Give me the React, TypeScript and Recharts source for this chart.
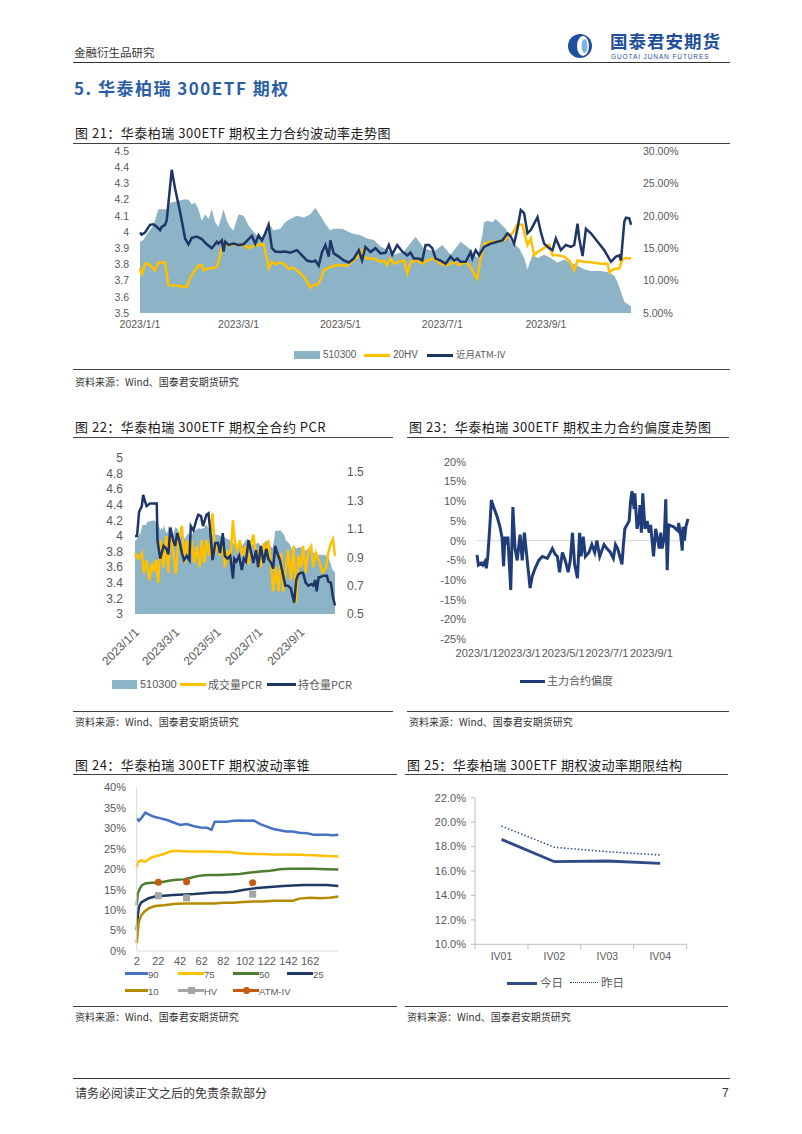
import React from 'react'
import { ComposedChart, LineChart, Line, Area, XAxis, YAxis, ReferenceLine } from 'recharts'

// x axis of the daily charts: days since 2023/1/1
const dateTicks = [0, 59, 120, 181, 243]
const dateLabels = ['2023/1/1', '2023/3/1', '2023/5/1', '2023/7/1', '2023/9/1']

// 510300 close (left axis), used by fig 21 and fig 22
const etf510300 = [
  [0, 3.94], [2, 3.95], [5, 4.0], [8, 4.04], [11, 4.14], [16, 4.14], [18, 4.18], [22, 4.19], [26, 4.2], [29, 4.2],
  [31, 4.17], [33, 4.18], [35, 4.14], [37, 4.07], [39, 4.11], [41, 4.08], [43, 4.14], [45, 4.06], [47, 4.03], [50, 4.14],
  [52, 4.07], [54, 4.03], [56, 4.01], [59, 4.11], [62, 4.1], [65, 4.04], [68, 4.0], [71, 3.97], [74, 3.97], [76, 4.01],
  [78, 4.04], [80, 4.01], [84, 4.02], [87, 4.06], [90, 4.08], [94, 4.1], [98, 4.09], [102, 4.11], [105, 4.15], [108, 4.1],
  [111, 4.05], [114, 4.01], [116, 4.02], [121, 4.02], [127, 3.99], [132, 3.98], [136, 3.96], [140, 3.95], [144, 3.91], [148, 3.89],
  [152, 3.86], [158, 3.88], [165, 3.97], [170, 3.9], [176, 3.88], [181, 3.92], [186, 3.86], [192, 3.94], [197, 3.9], [202, 3.84],
  [205, 3.98], [206, 4.06], [208, 4.07], [211, 4.06], [213, 4.08], [216, 4.05], [219, 4.02], [222, 3.94], [225, 3.92], [227, 3.9],
  [230, 3.84], [232, 3.77], [235, 3.86], [238, 3.84], [242, 3.86], [246, 3.84], [250, 3.81], [254, 3.83], [258, 3.81], [262, 3.79],
  [266, 3.77], [270, 3.76], [276, 3.76], [281, 3.75], [284, 3.73], [286, 3.69], [288, 3.63], [290, 3.57], [294, 3.54],
]

// fig 21, right axis (%)
const hv20 = [
  [0, 11.96], [1, 10.8], [3, 12.6], [5, 12.6], [7, 12.1], [9, 11.6], [11, 12.8], [15, 12.8], [17, 9.3], [22, 9.2],
  [28, 9.0], [30, 10.3], [32, 11.3], [35, 12.3], [37, 12.4], [38, 11.6], [41, 11.9], [44, 11.9], [46, 12.1], [47, 12.9],
  [49, 15.0], [50, 15.5], [54, 15.5], [58, 15.6], [62, 15.5], [65, 15.0], [68, 15.4], [71, 15.5], [74, 15.7], [76, 13.4],
  [77, 11.9], [79, 12.9], [81, 12.5], [84, 12.8], [87, 12.4], [89, 11.8], [91, 12.0], [94, 11.6], [96, 11.1], [99, 10.3],
  [102, 8.9], [104, 9.4], [106, 9.3], [108, 10.1], [110, 11.6], [114, 12.1], [118, 12.4], [124, 12.3], [128, 13.1], [131, 13.9],
  [133, 14.7], [134, 13.7], [136, 13.4], [140, 13.4], [144, 12.9], [146, 13.1], [148, 12.4], [150, 13.4], [152, 12.6], [155, 12.9],
  [158, 13.1], [160, 11.1], [162, 12.9], [166, 13.1], [169, 12.6], [172, 13.1], [176, 13.4], [180, 12.6], [184, 12.4], [188, 12.9],
  [191, 12.4], [195, 12.9], [198, 12.1], [201, 10.6], [202, 10.3], [204, 13.4], [206, 15.7], [210, 16.0], [214, 16.0], [218, 16.2],
  [221, 17.0], [223, 17.3], [226, 18.6], [229, 18.6], [231, 16.5], [232, 15.5], [234, 16.5], [236, 13.9], [238, 14.4], [240, 14.7],
  [243, 15.2], [245, 15.5], [247, 13.9], [250, 13.9], [254, 13.7], [257, 13.1], [260, 11.6], [262, 13.1], [266, 12.9], [271, 12.8],
  [276, 12.6], [280, 12.6], [281, 11.3], [284, 11.8], [287, 11.9], [289, 13.3], [291, 13.5], [294, 13.4],
]

const atmIV = [
  [0, 17.4], [1, 17.1], [3, 17.4], [6, 18.6], [8, 18.7], [10, 18.3], [12, 17.8], [13, 18.3], [15, 18.6], [16, 19.3],
  [19, 27.1], [21, 24.2], [24, 20.6], [27, 16.5], [29, 15.6], [31, 16.6], [34, 16.8], [37, 16.4], [40, 15.6], [43, 15.0],
  [44, 15.3], [46, 16.0], [47, 15.7], [49, 16.2], [50, 14.5], [51, 16.0], [53, 15.5], [56, 15.7], [59, 15.5], [62, 15.6],
  [65, 16.4], [67, 16.9], [69, 15.7], [71, 17.0], [73, 16.2], [75, 17.3], [77, 18.6], [79, 15.0], [81, 14.5], [84, 14.4],
  [87, 14.5], [90, 14.3], [94, 14.7], [97, 13.9], [100, 13.1], [103, 12.9], [105, 13.1], [107, 12.3], [109, 14.4], [111, 15.5],
  [113, 13.7], [114, 16.2], [116, 14.2], [119, 13.7], [122, 13.1], [125, 12.8], [128, 13.4], [131, 14.7], [133, 13.1], [135, 15.2],
  [138, 14.4], [141, 15.0], [144, 14.2], [147, 14.3], [149, 15.5], [151, 14.0], [154, 15.5], [157, 14.5], [160, 13.9], [162, 14.3],
  [164, 13.4], [167, 13.4], [169, 13.1], [171, 15.5], [173, 15.5], [175, 15.0], [177, 13.4], [180, 13.1], [183, 12.6], [186, 13.7],
  [188, 13.1], [190, 13.4], [192, 12.9], [195, 12.9], [198, 14.4], [199, 13.4], [201, 14.7], [203, 13.9], [206, 15.2], [210, 15.7],
  [214, 16.0], [217, 16.2], [220, 17.3], [222, 16.8], [224, 15.7], [226, 18.0], [228, 20.9], [230, 20.4], [232, 17.3], [234, 17.8],
  [236, 18.8], [238, 19.8], [240, 17.5], [242, 15.7], [245, 15.0], [247, 14.7], [249, 16.5], [252, 14.7], [255, 15.5], [258, 15.2],
  [260, 15.5], [262, 18.8], [263, 16.5], [265, 13.8], [267, 18.0], [270, 17.3], [274, 16.0], [278, 14.7], [282, 12.9], [285, 13.7],
  [287, 13.9], [288, 13.1], [290, 19.1], [291, 19.7], [293, 19.6], [294, 18.6],
]

// fig 22, right axis
const pcrVolume = [
  [0, 0.93], [5, 0.89], [10, 0.93], [13, 0.79], [17, 0.88], [21, 0.74], [25, 0.86], [28, 0.8], [31, 0.88], [34, 0.72],
  [38, 1.02], [42, 0.83], [46, 1.05], [49, 0.79], [52, 1.09], [56, 0.95], [60, 0.78], [64, 1.02], [69, 1.12], [73, 0.86],
  [76, 1.02], [80, 0.88], [83, 1.02], [87, 0.86], [91, 0.98], [95, 0.83], [98, 1.02], [102, 0.86], [105, 1.02], [109, 0.91],
  [114, 1.21], [118, 0.93], [122, 1.0], [125, 0.91], [129, 1.02], [132, 0.83], [136, 0.95], [140, 0.86], [144, 1.16], [147, 1.0],
  [150, 0.95], [154, 1.02], [158, 0.91], [162, 0.98], [167, 0.85], [171, 1.0], [174, 1.06], [178, 0.91], [181, 0.95], [185, 0.83],
  [189, 1.0], [193, 0.93], [196, 1.02], [200, 0.86], [203, 0.66], [207, 0.83], [211, 0.66], [215, 0.93], [218, 0.66], [222, 0.83],
  [225, 0.95], [229, 0.74], [233, 0.98], [237, 0.58], [240, 0.91], [244, 0.83], [247, 0.98], [251, 0.79], [255, 0.95], [259, 0.98],
  [262, 0.83], [266, 0.93], [271, 0.87], [276, 0.79], [281, 0.83], [284, 0.93], [288, 1.0], [291, 1.03], [294, 0.91],
]

const pcrOI = [
  [0, 1.05], [3, 1.05], [6, 1.22], [10, 1.26], [12, 1.34], [15, 1.29], [17, 1.26], [22, 1.28], [29, 1.28], [32, 1.28],
  [33, 1.02], [37, 0.89], [42, 0.98], [46, 0.96], [49, 0.92], [52, 1.11], [56, 1.02], [59, 0.98], [62, 1.07], [65, 1.02],
  [69, 0.93], [72, 0.88], [76, 0.91], [80, 0.88], [82, 1.12], [86, 1.09], [90, 1.16], [93, 1.2], [97, 1.19], [100, 1.12],
  [105, 1.2], [108, 1.21], [110, 1.12], [114, 0.88], [118, 1.0], [122, 1.0], [125, 0.93], [129, 1.07], [132, 0.91], [136, 0.89],
  [140, 0.91], [144, 0.75], [146, 0.89], [149, 0.87], [153, 0.91], [157, 0.81], [160, 0.89], [163, 0.87], [167, 1.02], [170, 0.95],
  [174, 0.86], [178, 0.95], [181, 0.83], [185, 0.98], [189, 0.86], [193, 0.96], [196, 0.89], [200, 0.86], [203, 0.82], [206, 0.98],
  [209, 0.93], [213, 0.88], [217, 0.79], [221, 0.7], [225, 0.7], [229, 0.68], [234, 0.58], [237, 0.74], [240, 0.78], [244, 0.79],
  [247, 0.79], [251, 0.72], [255, 0.7], [259, 0.71], [262, 0.7], [265, 0.74], [267, 0.66], [270, 0.76], [272, 0.76], [277, 0.77],
  [282, 0.77], [284, 0.73], [288, 0.72], [291, 0.62], [294, 0.56],
]

// fig 23 skew (%)
const skew = [
  [0, -3.6], [2, -6.2], [6, -5.7], [8, -6.2], [11, -5.3], [13, -7.0], [15, -4.1], [18, 4.0], [20, 10.3], [23, 8.6],
  [28, 6.1], [32, 3.5], [35, 0.6], [37, -6.5], [39, 1.0], [41, -1.0], [43, 1.0], [47, -12.5], [50, 8.5], [53, -2.0],
  [56, -5.0], [60, 1.5], [63, -5.0], [66, 2.0], [70, -5.0], [74, -12.0], [77, -9.0], [81, -7.0], [86, -5.0], [91, -4.0],
  [98, -4.5], [105, -2.0], [109, -3.5], [112, -4.0], [115, -8.0], [119, -3.0], [123, -5.0], [127, -8.0], [130, -5.0], [133, 2.0],
  [136, -6.0], [140, -9.5], [143, 2.0], [145, -4.0], [148, 1.0], [151, -4.0], [156, -3.0], [160, -1.0], [164, -3.0], [167, 0.0],
  [171, -4.0], [177, -1.0], [181, -2.0], [186, -3.0], [190, -4.5], [193, -1.0], [196, -2.0], [202, -6.0], [204, -1.0], [206, 3.0],
  [209, 4.0], [212, 5.0], [214, 10.0], [216, 12.5], [219, 8.0], [220, 12.0], [223, 3.0], [226, 6.0], [227, 9.0], [229, 2.0],
  [231, 12.0], [234, 3.0], [237, 5.0], [240, 2.0], [242, 4.0], [246, -4.0], [249, 3.0], [254, -2.0], [256, 2.0], [258, -2.0],
  [261, 1.0], [263, 10.5], [265, -7.5], [267, 4.0], [274, 3.5], [280, 2.5], [281, 4.5], [284, 1.0], [286, -2.5], [287, 3.5],
  [289, 0.0], [291, 3.5], [294, 5.5],
]

// fig 24 volatility cone: [window, %]
const coneTicks = [2, 22, 42, 62, 82, 102, 122, 142, 162]
const cone90 = [
  [2, 32.4], [4, 31.8], [6, 32.4], [10, 33.8], [13, 33.4], [18, 32.8], [24, 32.4], [30, 32.0], [36, 31.4], [42, 30.8],
  [48, 31.0], [55, 30.5], [61, 30.2], [67, 30.1], [71, 29.6], [74, 31.6], [79, 31.6], [85, 31.6], [91, 31.8], [97, 31.9],
  [104, 31.8], [110, 31.9], [116, 31.0], [122, 30.4], [128, 29.8], [134, 29.5], [140, 29.2], [146, 29.2], [152, 28.9], [159, 28.8],
  [165, 28.4], [171, 28.4], [177, 28.4], [183, 28.3], [188, 28.4],
]
const cone75 = [
  [2, 20.4], [3, 21.6], [6, 22.2], [9, 21.8], [12, 22.2], [16, 22.9], [21, 23.2], [27, 23.7], [33, 24.3], [39, 24.5],
  [45, 24.4], [52, 24.3], [61, 24.3], [70, 24.3], [79, 24.2], [88, 24.2], [97, 23.9], [107, 23.7], [116, 23.7], [128, 23.6],
  [140, 23.6], [152, 23.5], [165, 23.4], [177, 23.2], [188, 23.1],
]
const cone50 = [
  [2, 11.2], [3, 14.1], [5, 15.3], [7, 16.1], [10, 16.5], [15, 16.7], [21, 16.7], [27, 16.9], [33, 17.2], [39, 17.4],
  [45, 17.5], [52, 17.9], [58, 18.3], [64, 18.5], [70, 18.6], [79, 18.6], [88, 18.7], [97, 18.8], [107, 19.2], [116, 19.4],
  [125, 19.6], [134, 20.0], [143, 20.1], [152, 20.1], [165, 20.1], [177, 20.0], [188, 19.9],
]
const cone25 = [
  [2, 5.1], [3, 8.4], [4, 10.8], [6, 11.8], [9, 12.3], [13, 12.9], [19, 13.3], [27, 13.5], [36, 13.7], [45, 13.8],
  [55, 13.9], [64, 14.1], [73, 14.3], [82, 14.3], [91, 14.5], [100, 14.9], [110, 15.3], [119, 15.5], [128, 15.7], [137, 15.9],
  [146, 16.0], [156, 16.1], [165, 16.1], [177, 16.1], [188, 15.9],
]
const cone10 = [
  [2, 1.9], [3, 4.7], [4, 7.2], [6, 8.6], [9, 9.6], [13, 10.4], [19, 11.0], [27, 11.2], [36, 11.5], [45, 11.6],
  [55, 11.6], [64, 11.6], [73, 11.6], [82, 11.8], [91, 11.8], [100, 12.0], [110, 12.1], [119, 12.1], [128, 12.3], [137, 12.3],
  [146, 12.3], [152, 12.8], [162, 13.0], [171, 12.9], [180, 13.0], [188, 13.3],
]
const hvPoints = [[22, 13.5], [48, 13.0], [109, 13.9]]
const ivPoints = [[22, 16.8], [48, 16.9], [109, 16.7]]

// fig 25 term structure
const termLabels = ['IV01', 'IV02', 'IV03', 'IV04']
const ivToday = [18.59, 16.76, 16.82, 16.63]
const ivYesterday = [19.68, 17.94, 17.58, 17.31]

const pts = (arr: number[][]) => arr.map(([d, v]) => ({ d, v }))
const dateFmt = (v: number) => dateLabels[dateTicks.indexOf(v)] ?? ''

const NAVY = '#1f3566'
const GOLD = '#ffc000'
const STEEL = '#8cb3c6'
const LAT = 'Liberation Sans, Arial, sans-serif'
const AX = { fill: '#595959', fontSize: 10.5, fontFamily: LAT }

function Txt({ x, y, size = 12, color = '#222', children, style }: any) {
  return (
    <div style={{ position: 'absolute', left: x, top: y - size * 0.6, fontSize: size, lineHeight: `${size * 1.2}px`, color, whiteSpace: 'nowrap', ...style }}>
      {children}
    </div>
  )
}

function Rule({ x1, x2, y, h = 1, color = '#404040' }: any) {
  return <div style={{ position: 'absolute', left: x1, top: y, width: x2 - x1, height: h, background: color }} />
}

function Swatch({ x1, x2, y, color, h = 3, dash }: any) {
  return <div style={{ position: 'absolute', left: x1, top: y - h / 2, width: x2 - x1, borderTop: `${h}px ${dash ? 'dotted' : 'solid'} ${color}` }} />
}

function Title({ x, y, children }: any) {
  return <Txt x={x} y={y} size={13} color="#1a1a1a" style={{ letterSpacing: 0.5 }}>{children}</Txt>
}

function Source({ x, y }: any) {
  return <Txt x={x} y={y} size={10} color="#333">资料来源：Wind、国泰君安期货研究</Txt>
}

const RotTick = ({ x, y, payload }: any) => (
  <g transform={`translate(${x + 2},${y + 8})`}>
    <text x={0} y={0} dy="0.35em" textAnchor="end" transform="rotate(-45)" fill="#595959" fontSize={12} fontFamily={LAT}>
      {dateFmt(payload.value)}
    </text>
  </g>
)

const TermTick = ({ x, y, payload, index }: any) => {
  const half = 26.5
  return (
    <g>
      <line x1={x - half} x2={x - half} y1={y - 8} y2={y - 3} stroke="#bfbfbf" />
      {index === termLabels.length - 1 && <line x1={x + half} x2={x + half} y1={y - 8} y2={y - 3} stroke="#bfbfbf" />}
      <text x={x} y={y} dy="0.71em" textAnchor="middle" {...AX}>{payload.value}</text>
    </g>
  )
}

function Fig21() {
  return (
    <div style={{ position: 'absolute', left: 70, top: 140 }}>
      <ComposedChart width={660} height={200} margin={{ top: 11, right: 49, bottom: 5, left: 30 }}>
        <XAxis dataKey="d" type="number" domain={[0, 294]} ticks={dateTicks} interval={0} tickFormatter={dateFmt}
          tick={AX} axisLine={false} tickLine={false} height={22} />
        <YAxis yAxisId="l" domain={[3.5, 4.5]} ticks={[3.5, 3.6, 3.7, 3.8, 3.9, 4, 4.1, 4.2, 4.3, 4.4, 4.5]} interval={0}
          tick={AX} axisLine={false} tickLine={false} width={40} tickMargin={5} />
        <YAxis yAxisId="r" orientation="right" domain={[5, 30]} ticks={[5, 10, 15, 20, 25, 30]} interval={0}
          tickFormatter={(v: number) => `${v.toFixed(2)}%`} tick={AX} axisLine={false} tickLine={false} width={50} tickMargin={6} />
        <Area yAxisId="l" data={pts(etf510300)} dataKey="v" type="linear" stroke="none" fill={STEEL} fillOpacity={1} isAnimationActive={false} />
        <Line yAxisId="r" data={pts(hv20)} dataKey="v" stroke={GOLD} strokeWidth={2.5} dot={false} isAnimationActive={false} />
        <Line yAxisId="r" data={pts(atmIV)} dataKey="v" stroke={NAVY} strokeWidth={2.5} dot={false} isAnimationActive={false} />
      </ComposedChart>
    </div>
  )
}

function Fig22() {
  return (
    <div style={{ position: 'absolute', left: 70, top: 445 }}>
      <ComposedChart width={320} height={232} margin={{ top: 13, right: 10, bottom: 1, left: 25 }}>
        <XAxis dataKey="d" type="number" domain={[0, 294]} ticks={dateTicks} interval={0} tick={<RotTick />}
          axisLine={false} tickLine={false} height={62} />
        <YAxis yAxisId="l" domain={[3, 5]} ticks={[3, 3.2, 3.4, 3.6, 3.8, 4, 4.2, 4.4, 4.6, 4.8, 5]} interval={0}
          tick={{ ...AX, fontSize: 12 }} axisLine={false} tickLine={false} width={40} tickMargin={6} />
        <YAxis yAxisId="r" orientation="right" domain={[0.5, 1.6]} ticks={[0.5, 0.7, 0.9, 1.1, 1.3, 1.5]} interval={0}
          tick={{ ...AX, fontSize: 12 }} axisLine={false} tickLine={false} width={45} tickMargin={6} />
        <Area yAxisId="l" data={pts(etf510300)} dataKey="v" type="linear" stroke="none" fill={STEEL} fillOpacity={1} isAnimationActive={false} />
        <Line yAxisId="r" data={pts(pcrVolume)} dataKey="v" stroke={GOLD} strokeWidth={2.5} dot={false} isAnimationActive={false} />
        <Line yAxisId="r" data={pts(pcrOI)} dataKey="v" stroke={NAVY} strokeWidth={2.5} dot={false} isAnimationActive={false} />
      </ComposedChart>
    </div>
  )
}

function Fig23() {
  return (
    <div style={{ position: 'absolute', left: 405, top: 450 }}>
      <LineChart width={320} height={220} margin={{ top: 11.7, right: 37, bottom: 5.7, left: 27 }}>
        <XAxis dataKey="d" type="number" domain={[0, 294]} ticks={dateTicks} interval={0} tickFormatter={dateFmt}
          tick={{ ...AX, fontSize: 11 }} axisLine={false} tickLine={false} height={25} tickMargin={4} />
        <YAxis domain={[-25, 20]} ticks={[-25, -20, -15, -10, -5, 0, 5, 10, 15, 20]} interval={0}
          tickFormatter={(v: number) => `${v}%`} tick={{ ...AX, fontSize: 11 }} axisLine={false} tickLine={false} width={45} tickMargin={5} />
        <ReferenceLine y={0} stroke="#d9d9d9" strokeWidth={1} />
        <Line data={pts(skew)} dataKey="v" stroke="#203d7a" strokeWidth={3} dot={false} isAnimationActive={false} />
      </LineChart>
    </div>
  )
}

const square = (p: any) => <rect key={`sq-${p.index}`} x={p.cx - 3.5} y={p.cy - 3.5} width={7} height={7} fill="#a5a5a5" />
const circle = (p: any) => <circle key={`ci-${p.index}`} cx={p.cx} cy={p.cy} r={3.5} fill="#c55a11" />

function Fig24() {
  return (
    <div style={{ position: 'absolute', left: 70, top: 775 }}>
      <LineChart width={290} height={200} margin={{ top: 12.3, right: 21.7, bottom: 2, left: 21.7 }}>
        <XAxis dataKey="d" type="number" domain={[2, 188]} ticks={coneTicks} interval={0}
          tick={{ ...AX, fontSize: 11 }} axisLine={{ stroke: '#d9d9d9' }} tickLine={false} height={22} tickMargin={0} />
        <YAxis domain={[0, 40]} ticks={[0, 5, 10, 15, 20, 25, 30, 35, 40]} interval={0}
          tickFormatter={(v: number) => `${v}%`} tick={{ ...AX, fontSize: 11 }} axisLine={{ stroke: '#d9d9d9' }} tickLine={false} width={45} tickMargin={4.7} />
        <Line data={pts(cone90)} dataKey="v" stroke="#4472c4" strokeWidth={2.5} dot={false} isAnimationActive={false} />
        <Line data={pts(cone75)} dataKey="v" stroke={GOLD} strokeWidth={2.5} dot={false} isAnimationActive={false} />
        <Line data={pts(cone50)} dataKey="v" stroke="#4e7d2f" strokeWidth={2.5} dot={false} isAnimationActive={false} />
        <Line data={pts(cone25)} dataKey="v" stroke="#203864" strokeWidth={2.5} dot={false} isAnimationActive={false} />
        <Line data={pts(cone10)} dataKey="v" stroke="#b38b00" strokeWidth={2.5} dot={false} isAnimationActive={false} />
        <Line data={pts(hvPoints)} dataKey="v" stroke="none" dot={square} isAnimationActive={false} />
        <Line data={pts(ivPoints)} dataKey="v" stroke="none" dot={circle} isAnimationActive={false} />
      </LineChart>
    </div>
  )
}

function Fig25() {
  const data = termLabels.map((k, i) => ({ k, today: ivToday[i], yday: ivYesterday[i] }))
  return (
    <div style={{ position: 'absolute', left: 405, top: 785 }}>
      <LineChart width={320} height={182} data={data} margin={{ top: 12.7, right: 38.3, bottom: 0.7, left: 25 }}>
        <XAxis dataKey="k" type="category" padding={{ left: 26.5, right: 26.5 }} tick={<TermTick />} interval={0}
          axisLine={{ stroke: '#bfbfbf' }} tickLine={false} height={22} />
        <YAxis domain={[10, 22]} ticks={[10, 12, 14, 16, 18, 20, 22]} interval={0}
          tickFormatter={(v: number) => `${v.toFixed(1)}%`} tick={{ ...AX, fontSize: 11 }}
          axisLine={{ stroke: '#bfbfbf' }} tickLine={{ stroke: '#bfbfbf' }} tickSize={4} tickMargin={5} width={45} />
        <Line dataKey="yday" stroke="#2f4b86" strokeWidth={1.5} strokeDasharray="1.5 2" dot={false} isAnimationActive={false} />
        <Line dataKey="today" stroke="#2f4b86" strokeWidth={2.8} dot={false} isAnimationActive={false} />
      </LineChart>
    </div>
  )
}

function Logo() {
  return (
    <div style={{ position: 'absolute', left: 567, top: 33 }}>
      <svg width={30} height={26} viewBox="0 0 30 26">
        <ellipse cx={13} cy={13} rx={12} ry={12} fill="#1d4f9c" />
        <ellipse cx={16} cy={13} rx={6} ry={10} fill="#ffffff" />
        <ellipse cx={17.5} cy={13} rx={3} ry={7} fill="#7fb4e0" />
      </svg>
    </div>
  )
}

export default function App() {
  return (
    <div style={{ position: 'absolute', left: 0, top: 0, width: 802, height: 1134, background: '#fff', overflow: 'hidden', fontFamily: "'Noto Sans CJK SC', 'Noto Sans', sans-serif" }}>
      {/* header */}
      <Txt x={74} y={52.5} size={11.5} color="#333">金融衍生品研究</Txt>
      <Logo />
      <Txt x={610} y={40.5} size={17.5} color="#1d4f9c" style={{ fontWeight: 'bold', letterSpacing: 1 }}>国泰君安期货</Txt>
      <Txt x={611} y={56.5} size={6.5} color="#1d4f9c" style={{ letterSpacing: 0.9, fontFamily: LAT }}>GUOTAI JUNAN FUTURES</Txt>
      <Rule x1={73} x2={730} y={61.5} h={1.5} color="#333" />
      <Txt x={74} y={88} size={17} color="#2b5ea7" style={{ fontWeight: 'bold', letterSpacing: 1.5 }}>5.  华泰柏瑞 300ETF 期权</Txt>

      {/* fig 21 */}
      <Title x={75} y={133}>图 21：华泰柏瑞 300ETF 期权主力合约波动率走势图</Title>
      <Rule x1={73} x2={730} y={142.5} />
      <Fig21 />
      <div style={{ position: 'absolute', left: 294, top: 351, width: 26, height: 8, background: STEEL }} />
      <Txt x={323} y={355} size={10} color="#595959" style={{ fontFamily: LAT }}>510300</Txt>
      <Swatch x1={364} x2={390} y={355} color={GOLD} />
      <Txt x={393} y={355} size={10} color="#595959" style={{ fontFamily: LAT }}>20HV</Txt>
      <Swatch x1={427} x2={453} y={355} color={NAVY} />
      <Txt x={456} y={355} size={9.5} color="#595959">近月ATM-IV</Txt>
      <Rule x1={73} x2={730} y={369} />
      <Source x={75} y={382} />

      {/* fig 22 */}
      <Title x={75} y={426.5}>图 22：华泰柏瑞 300ETF 期权全合约 PCR</Title>
      <Rule x1={73} x2={393} y={437} />
      <Fig22 />
      <div style={{ position: 'absolute', left: 112, top: 680, width: 25, height: 9, background: STEEL }} />
      <Txt x={140} y={684.5} size={11} color="#595959" style={{ fontFamily: LAT }}>510300</Txt>
      <Swatch x1={180} x2={206} y={684.5} color={GOLD} />
      <Txt x={208} y={684.5} size={11} color="#595959">成交量PCR</Txt>
      <Swatch x1={267} x2={296} y={684.5} color={NAVY} />
      <Txt x={298} y={684.5} size={11} color="#595959">持仓量PCR</Txt>
      <Rule x1={73} x2={393} y={710.5} />
      <Source x={75} y={721.5} />

      {/* fig 23 */}
      <Title x={409} y={426.5}>图 23：华泰柏瑞 300ETF 期权主力合约偏度走势图</Title>
      <Rule x1={407} x2={729} y={437} />
      <Fig23 />
      <Swatch x1={520} x2={545} y={681} color="#203d7a" />
      <Txt x={547} y={681} size={11} color="#595959">主力合约偏度</Txt>
      <Rule x1={407} x2={729} y={710.5} />
      <Source x={409} y={721.5} />

      {/* fig 24 */}
      <Title x={75} y={765}>图 24：华泰柏瑞 300ETF 期权波动率锥</Title>
      <Rule x1={73} x2={397} y={774} />
      <Fig24 />
      <Swatch x1={125} x2={148} y={973} color="#4472c4" />
      <Txt x={148} y={974.5} size={9.5} color="#595959" style={{ fontFamily: LAT }}>90</Txt>
      <Swatch x1={178} x2={204} y={973} color={GOLD} />
      <Txt x={204} y={974.5} size={9.5} color="#595959" style={{ fontFamily: LAT }}>75</Txt>
      <Swatch x1={233} x2={259} y={973} color="#4e7d2f" />
      <Txt x={259} y={974.5} size={9.5} color="#595959" style={{ fontFamily: LAT }}>50</Txt>
      <Swatch x1={287} x2={313} y={973} color="#203864" />
      <Txt x={313} y={974.5} size={9.5} color="#595959" style={{ fontFamily: LAT }}>25</Txt>
      <Swatch x1={125} x2={148} y={990} color="#b38b00" />
      <Txt x={148} y={991.5} size={9.5} color="#595959" style={{ fontFamily: LAT }}>10</Txt>
      <Swatch x1={178} x2={204} y={990} color="#a5a5a5" />
      <div style={{ position: 'absolute', left: 187.5, top: 986.5, width: 7, height: 7, background: '#a5a5a5' }} />
      <Txt x={204} y={991.5} size={9.5} color="#595959" style={{ fontFamily: LAT }}>HV</Txt>
      <Swatch x1={233} x2={259} y={990} color="#c55a11" />
      <div style={{ position: 'absolute', left: 243, top: 986.5, width: 7, height: 7, borderRadius: 4, background: '#c55a11' }} />
      <Txt x={259} y={991.5} size={9.5} color="#595959" style={{ fontFamily: LAT }}>ATM-IV</Txt>
      <Rule x1={73} x2={397} y={1006} />
      <Source x={75} y={1017} />

      {/* fig 25 */}
      <Title x={407} y={765}>图 25：华泰柏瑞 300ETF 期权波动率期限结构</Title>
      <Rule x1={405} x2={728} y={774} />
      <Fig25 />
      <Swatch x1={507} x2={537} y={983} color="#2f4b86" />
      <Txt x={540} y={983} size={11.5} color="#595959">今日</Txt>
      <Swatch x1={570} x2={598} y={983} color="#2f4b86" h={1.5} dash />
      <Txt x={601} y={983} size={11.5} color="#595959">昨日</Txt>
      <Rule x1={405} x2={728} y={1006} />
      <Source x={407} y={1017} />

      {/* footer */}
      <Rule x1={73} x2={730} y={1078} color="#333" />
      <Txt x={75} y={1093} size={12} color="#333">请务必阅读正文之后的免责条款部分</Txt>
      <Txt x={722} y={1093} size={12} color="#333" style={{ fontFamily: LAT }}>7</Txt>
    </div>
  )
}
